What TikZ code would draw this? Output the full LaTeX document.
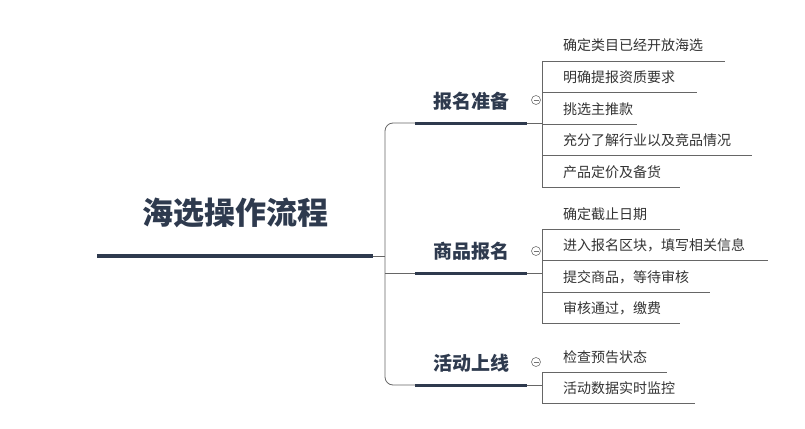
\documentclass[tikz,border=0pt]{standalone}
\usepackage{fontspec}
\setmainfont{Noto Sans CJK SC}
\definecolor{navy}{HTML}{2E3A4E}
\begin{document}
\begin{tikzpicture}[x=1pt,y=-1pt,
  leaf/.style={anchor=base west,font=\fontsize{14}{16}\selectfont,text=black!80,inner sep=0pt},
  mainn/.style={anchor=base,font=\bfseries\fontsize{19}{22}\selectfont,text=navy,inner sep=0pt},
  thin/.style={draw=black!60,line width=0.8pt},
  thick/.style={draw=navy,line width=3pt},
  fold/.style={circle,draw=black!55,line width=0.6pt,minimum size=9pt,inner sep=0pt,fill=white}]
\useasboundingbox (0,0) rectangle (805,428);
% root
\node[anchor=base,inner sep=0pt,font=\bfseries\fontsize{31}{34}\selectfont,text=navy] (root) at (235,224) {海选操作流程};
\draw[thick,line width=4pt] (97,256) coordinate (r1) -- (373,256) coordinate (r2);
\coordinate (rj) at (385,256);
\draw[thin] (r2) -- (rj);
% main branches
\foreach \n/\t/\y in {a/报名准备/123, b/商品报名/273, c/活动上线/385}{
  \node[mainn] (\n) at (471,\y-15) {\t};
  \draw[thick] (415,\y) coordinate (\n L) -- (527,\y) coordinate (\n R);
}
\draw[thin,rounded corners=8pt] (aL) -- (385,123) -- (385,385) -- (cL);
\draw[thin] (385,273) -- (bL);
\draw[thin] (aR) -- (542,123);
\draw[thin] (bR) -- (542,273);
\draw[thin] (cR) -- (542,385);
% leaves
\foreach \n/\t/\y/\e in {a1/确定类目已经开放海选/61/725, a2/明确提报资质要求/92/697, a3/挑选主推款/124/637, a4/充分了解行业以及竞品情况/155/752, a5/产品定价及备货/187/680,
  b1/确定截止日期/229/680, b2/进入报名区块，填写相关信息/260/768, b3/提交商品，等待审核/292/710, b4/审核通过，缴费/323/680,
  c1/检查预告状态/372/667, c2/活动数据实时监控/403/695}{
  \node[leaf] (\n) at (563,\y-10) {\t};
  \draw[thin] (542,\y) -- (\e,\y);
}
\draw[thin] (542,61) -- (542,187);
\draw[thin] (542,229) -- (542,323);
\draw[thin] (542,372) -- (542,403);
\foreach \n/\y in {fa/100, fb/251, fc/362}{
  \node[fold] (\n) at (536,\y) {};
  \draw[black!55,line width=0.6pt] ([xshift=-2.5pt]\n.center) -- ([xshift=2.5pt]\n.center);
}
\end{tikzpicture}
\end{document}
